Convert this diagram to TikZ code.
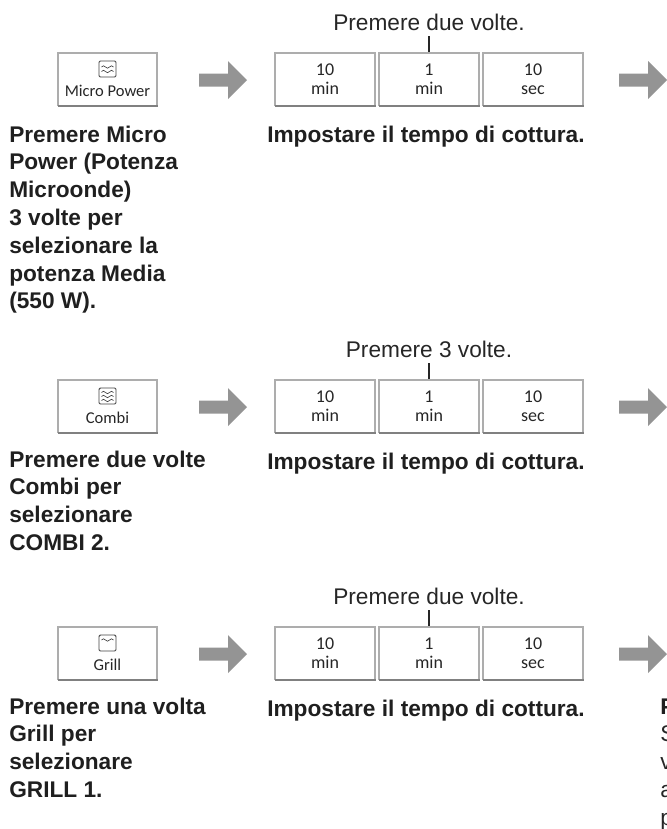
\documentclass[tikz,border=0pt]{standalone}
\usepackage{fontspec}
\setmainfont{Liberation Sans}
\newfontfamily\btnfont{Carlito}
\begin{document}
\begin{tikzpicture}[x=0.75pt,y=-0.75pt,
  boxline/.style={draw=black!32,line width=1pt},
  boxbot/.style={draw=black!50,line width=2.2pt},
  bigbold/.style={font=\bfseries\fontsize{17}{20}\selectfont,text=black!88,inner sep=0pt},
  toptxt/.style={font=\fontsize{17}{20}\selectfont,text=black!85,inner sep=0pt},
  btntxt/.style={font=\btnfont\fontsize{12.4}{14}\selectfont,text=black!85,inner sep=0pt},
  keytxt/.style={font=\btnfont\fontsize{13.5}{15}\selectfont,text=black!85,inner sep=0pt,align=center},
  arrowfill/.style={fill=black!42,draw=none},
  icon/.style={draw=black!75,line width=0.7pt,rounded corners=1pt},
  wave/.style={draw=black!75,line width=0.5pt}]
\useasboundingbox (0,0) rectangle (667,829);
\clip (0,0) rectangle (667,829);

\newcommand\keybox[5]{% name, x1, x2, top, text
  \path[boxline] (#2,#4+53) -- (#2,#4) -- (#3,#4) -- (#3,#4+53);
  \draw[boxbot] (#2-0.5,#4+53) -- (#3+0.5,#4+53);
  \node[keytxt] (#1) at ({(#2+#3)/2},#4+26) {#5};}
\newcommand\bigarrow[3]{% name, x, yc
  \path[arrowfill] (#2,#3-6.5) -- (#2+29,#3-6.5) -- (#2+29,#3-19) -- (#2+48,#3) -- (#2+29,#3+19) -- (#2+29,#3+6.5) -- (#2,#3+6.5) -- cycle;
  \coordinate (#1) at (#2+24,#3);}
\newcommand\wv[2]{% x, y : one wave line
  \draw[wave] (#1,#2) sin (#1+2,#2-1.2) cos (#1+4,#2) sin (#1+6,#2+1.2) cos (#1+8,#2) sin (#1+10,#2-1.2) cos (#1+12,#2);}

\newcommand\rowtop[3]{% suffix, top y, top text
  \keybox{ka#1}{275}{375}{#2}{10\\[-1pt]min}
  \keybox{kb#1}{379}{479}{#2}{1\\[-1pt]min}
  \keybox{kc#1}{483}{583}{#2}{10\\[-1pt]sec}
  \node[toptxt] (tt#1) at (429,#2-31) {#3};
  \coordinate (tk#1) at (429,#2-1);
  \draw[black!85,line width=1.3pt] (tt#1.south |- 0,#2-17) -- (tk#1);
  \bigarrow{ar#1}{199}{#2+27}
  \bigarrow{br#1}{619}{#2+27}
  \node[bigbold,anchor=base west] (cap#1) at (267,#2+89) {Impostare il tempo di cottura.};}

% Row 1
\path[boxline] (58,106) -- (58,53) -- (157,53) -- (157,106);
\draw[boxbot] (57.5,106) -- (157.5,106);
\node[btntxt] (b1) at (107.5,91) {Micro Power};
\draw[icon] (99,61) rectangle (116,77);
\wv{101.5}{67} \wv{101.5}{71.5}
\rowtop{1}{53}{Premere due volte.}
\foreach \t [count=\i] in {Premere Micro,Power (Potenza,Microonde),3 volte per,selezionare la,potenza Media,(550 W).}
  \node[bigbold,anchor=base west] (l1\i) at (9,{142+27.8*(\i-1)}) {\t};

% Row 2
\path[boxline] (58,433) -- (58,380) -- (157,380) -- (157,433);
\draw[boxbot] (57.5,433) -- (157.5,433);
\node[btntxt] (b2) at (107.5,418) {Combi};
\draw[icon] (99,388) rectangle (116,404);
\wv{101.5}{392.5} \wv{101.5}{396.5} \wv{101.5}{400.5}
\rowtop{2}{380}{Premere 3 volte.}
\foreach \t [count=\i] in {Premere due volte,Combi per,selezionare,COMBI 2.}
  \node[bigbold,anchor=base west] (l2\i) at (9,{467+27.8*(\i-1)}) {\t};

% Row 3
\path[boxline] (58,680) -- (58,627) -- (157,627) -- (157,680);
\draw[boxbot] (57.5,680) -- (157.5,680);
\node[btntxt] (b3) at (107.5,665) {Grill};
\draw[icon] (99,635) rectangle (116,651);
\wv{101.5}{640}
\rowtop{3}{627}{Premere due volte.}
\foreach \t [count=\i] in {Premere una volta,Grill per,selezionare,GRILL 1.}
  \node[bigbold,anchor=base west] (l3\i) at (9,{714+27.8*(\i-1)}) {\t};

% text cut by the right edge, as in the reference
\node[bigbold,anchor=base west] (r1) at (660,714) {P};
\foreach \t [count=\i] in {S,v,a,p}
  \node[toptxt,anchor=base west] (r\i x) at (660,{714+27.8*\i}) {\t};
\end{tikzpicture}
\end{document}
